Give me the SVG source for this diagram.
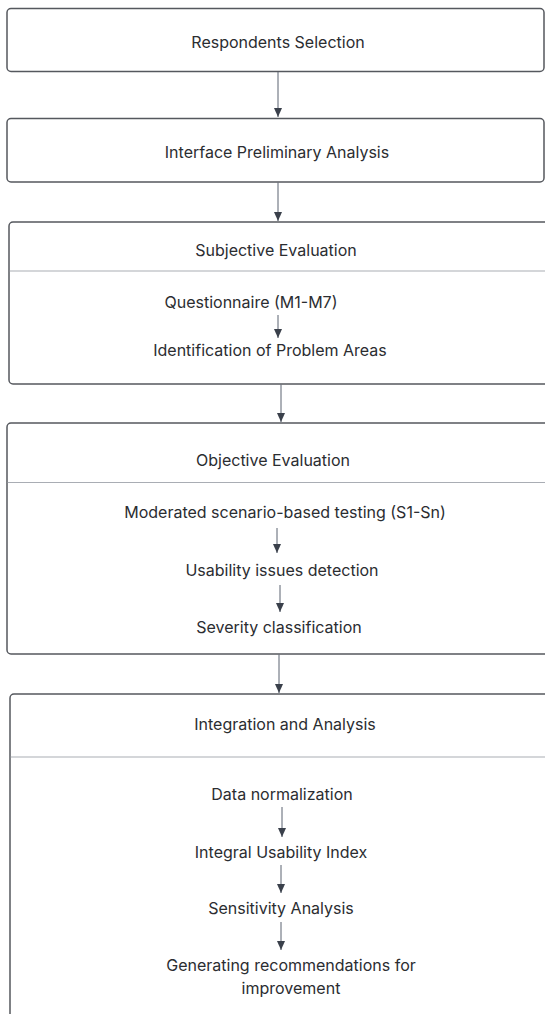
<svg xmlns="http://www.w3.org/2000/svg" width="545" height="1014" viewBox="0 0 545 1014">
  <defs>
    <style>
      .box { fill: #ffffff; stroke: #55585e; stroke-width: 1.5; }
      .div { stroke: #a9adb4; stroke-width: 1.2; }
      .t { font-family: Inter, "Liberation Sans", sans-serif; font-size: 16px; fill: #2b2d31; text-anchor: middle; }
      .conn { stroke: #5b6270; stroke-width: 1; fill: none; }
    </style>
    <marker id="ah" viewBox="0 0 9 8" refX="9" refY="4" markerWidth="9" markerHeight="8" markerUnits="userSpaceOnUse" orient="auto">
      <path d="M0,0 L9,4 L0,8 Z" fill="#3a404b"/>
    </marker>
  </defs>
  <rect width="545" height="1014" fill="#ffffff"/>

  <g id="n1">
    <rect class="box" x="7" y="8.5" width="537" height="63" rx="4"/>
    <text class="t" x="278" y="47.5">Respondents Selection</text>
  </g>
  <g id="n2">
    <rect class="box" x="7" y="118.5" width="537" height="63.5" rx="4"/>
    <text class="t" x="277" y="157.5">Interface Preliminary Analysis</text>
  </g>
  <g id="n3">
    <rect class="box" x="9" y="222" width="560" height="162" rx="4"/>
    <line class="div" x1="9.75" y1="271" x2="545" y2="271"/>
    <text class="t" x="276" y="255.5">Subjective Evaluation</text>
    <text class="t" x="251" y="307.5">Questionnaire (M1-M7)</text>
    <text class="t" x="270" y="355.5">Identification of Problem Areas</text>
  </g>
  <g id="n4">
    <rect class="box" x="7" y="423" width="560" height="231" rx="4"/>
    <line class="div" x1="7.75" y1="482.5" x2="545" y2="482.5"/>
    <text class="t" x="273" y="465.5">Objective Evaluation</text>
    <text class="t" x="285" y="517.5">Moderated scenario-based testing (S1-Sn)</text>
    <text class="t" x="282" y="575.5">Usability issues detection</text>
    <text class="t" x="279" y="632.5">Severity classification</text>
  </g>
  <g id="n5">
    <rect class="box" x="10" y="694" width="560" height="340" rx="4"/>
    <line class="div" x1="10.75" y1="757" x2="545" y2="757"/>
    <text class="t" x="285" y="729.5">Integration and Analysis</text>
    <text class="t" x="282" y="799.5">Data normalization</text>
    <text class="t" x="281" y="857.5">Integral Usability Index</text>
    <text class="t" x="281" y="913.5">Sensitivity Analysis</text>
    <text class="t" x="291" y="970.5">Generating recommendations for</text>
    <text class="t" x="291" y="993.5">improvement</text>
  </g>

  <g id="connectors">
    <line class="conn" x1="278" y1="72" x2="278" y2="117" marker-end="url(#ah)"/>
    <line class="conn" x1="278" y1="182.5" x2="278" y2="221" marker-end="url(#ah)"/>
    <line class="conn" x1="281" y1="384.5" x2="281" y2="422" marker-end="url(#ah)"/>
    <line class="conn" x1="279" y1="654.5" x2="279" y2="693" marker-end="url(#ah)"/>
    <line class="conn" x1="278" y1="315" x2="278" y2="338" marker-end="url(#ah)"/>
    <line class="conn" x1="277" y1="528" x2="277" y2="553" marker-end="url(#ah)"/>
    <line class="conn" x1="280" y1="585" x2="280" y2="612" marker-end="url(#ah)"/>
    <line class="conn" x1="282" y1="807" x2="282" y2="837" marker-end="url(#ah)"/>
    <line class="conn" x1="281" y1="865" x2="281" y2="893" marker-end="url(#ah)"/>
    <line class="conn" x1="281" y1="922" x2="281" y2="950" marker-end="url(#ah)"/>
  </g>
</svg>
